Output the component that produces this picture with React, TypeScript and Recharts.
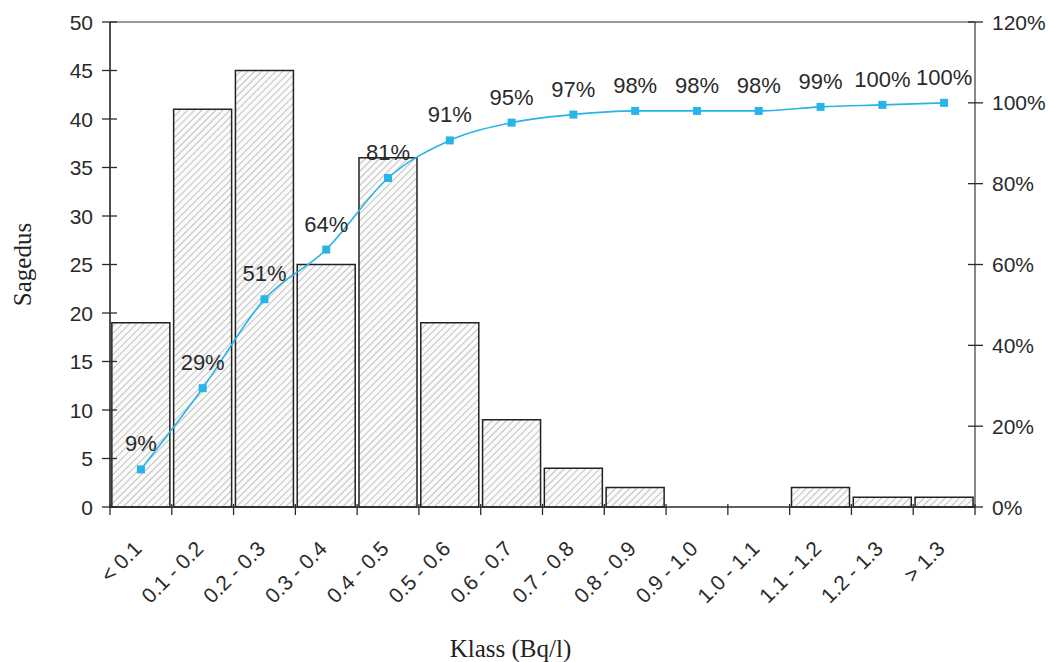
import React from "react";
import {
  ComposedChart,
  Bar,
  Line,
  XAxis,
  YAxis,
  LabelList,
  Label,
  ReferenceLine,
} from "recharts";

// Radon concentration classes and how often each occurs
const CATEGORIES = [
  "< 0.1",
  "0.1 - 0.2",
  "0.2 - 0.3",
  "0.3 - 0.4",
  "0.4 - 0.5",
  "0.5 - 0.6",
  "0.6 - 0.7",
  "0.7 - 0.8",
  "0.8 - 0.9",
  "0.9 - 1.0",
  "1.0 - 1.1",
  "1.1 - 1.2",
  "1.2 - 1.3",
  "> 1.3",
];
const FREQUENCY = [19, 41, 45, 25, 36, 19, 9, 4, 2, 0, 0, 2, 1, 1];
const CUMULATIVE = [9.3, 29.4, 51.4, 63.7, 81.4, 90.7, 95.1, 97.1, 98.0, 98.0, 98.0, 99.0, 99.5, 100];
const LEFT_TICKS = [0, 5, 10, 15, 20, 25, 30, 35, 40, 45, 50];
const RIGHT_TICKS = [0, 20, 40, 60, 80, 100, 120];

const W = 1055;
const H = 662;
const TOP = 22;
const LEFT_W = 110;
const RIGHT_W = 80;
const X_AXIS_H = 155;
const PLOT_BOTTOM = H - X_AXIS_H;
const PLOT_RIGHT = W - RIGHT_W;
const BAND = (PLOT_RIGHT - LEFT_W) / CATEGORIES.length;

const SANS = "'Liberation Sans', Arial, sans-serif";
const SERIF = "'Liberation Serif', 'Times New Roman', serif";
const INK = "#2a2a2a";
const CYAN = "#27b4e6";

const rows = CATEGORIES.map((c, i) => ({
  klass: c,
  sagedus: FREQUENCY[i],
  kum: CUMULATIVE[i],
}));

function XTick(props: any) {
  const { x, index } = props;
  const last = index === CATEGORIES.length - 1;
  const ax = x + 2;
  const ay = PLOT_BOTTOM + 43;
  return (
    <g>
      <line x1={x - BAND / 2} x2={x - BAND / 2} y1={PLOT_BOTTOM - 3} y2={PLOT_BOTTOM + 8} stroke={INK} strokeWidth={1.3} />
      {last && (
        <line x1={x + BAND / 2} x2={x + BAND / 2} y1={PLOT_BOTTOM - 3} y2={PLOT_BOTTOM + 8} stroke={INK} strokeWidth={1.3} />
      )}
      <text
        x={ax}
        y={ay}
        textAnchor="end"
        transform={`rotate(-45 ${ax} ${ay})`}
        fontFamily={SANS}
        fontSize={21}
        fill={INK}
      >
        {props.payload.value}
      </text>
    </g>
  );
}

function LeftTick(props: any) {
  const { y, payload } = props;
  return (
    <g>
      <line x1={LEFT_W - 8} x2={LEFT_W + 7} y1={y} y2={y} stroke={INK} strokeWidth={1.3} />
      <text x={LEFT_W - 17} y={y} dy={7.5} textAnchor="end" fontFamily={SANS} fontSize={21} fill={INK}>
        {payload.value}
      </text>
    </g>
  );
}

function RightTick(props: any) {
  const { y, payload } = props;
  return (
    <g>
      <line x1={PLOT_RIGHT - 7} x2={PLOT_RIGHT + 8} y1={y} y2={y} stroke={INK} strokeWidth={1.3} />
      <text x={PLOT_RIGHT + 17} y={y} dy={7.5} textAnchor="start" fontFamily={SANS} fontSize={21} fill={INK}>
        {payload.value + "%"}
      </text>
    </g>
  );
}

function SquareDot(props: any) {
  const { cx, cy, index } = props;
  return <rect key={index} x={cx - 4} y={cy - 4} width={8} height={8} fill={CYAN} />;
}

function PctLabel(props: any) {
  const { x, y, value } = props;
  return (
    <text x={x} y={y - 18} textAnchor="middle" fontFamily={SANS} fontSize={22} fill={INK}>
      {Math.round(value) + "%"}
    </text>
  );
}

export default function App() {
  return (
    <div style={{ position: "absolute", left: 0, top: 0, background: "#fff" }}>
      <ComposedChart
        width={W}
        height={H}
        data={rows}
        margin={{ top: TOP, right: 0, bottom: 0, left: 0 }}
        barCategoryGap="3%"
      >
        <defs>
          <pattern id="hatch" patternUnits="userSpaceOnUse" width={5} height={5} patternTransform="rotate(45)">
            <rect width={5} height={5} fill="#fbfbfb" />
            <line x1={0} y1={0} x2={0} y2={5} stroke="#9a9a9a" strokeWidth={1.2} />
          </pattern>
        </defs>
        <XAxis
          dataKey="klass"
          height={X_AXIS_H}
          interval={0}
          tickLine={false}
          axisLine={{ stroke: INK, strokeWidth: 1.5 }}
          tick={<XTick />}
        >
          <Label
            value="Klass (Bq/l)"
            position="insideBottom"
            offset={5}
            dx={-32}
            style={{ fontFamily: SERIF, fontSize: 25, fill: "#222" }}
          />
        </XAxis>
        <YAxis
          yAxisId="left"
          width={LEFT_W}
          domain={[0, 50]}
          ticks={LEFT_TICKS}
          tickLine={false}
          axisLine={{ stroke: "#222", strokeWidth: 1.6 }}
          tick={<LeftTick />}
        >
          <Label
            value="Sagedus"
            angle={-90}
            position="insideLeft"
            offset={22}
            style={{ fontFamily: SERIF, fontSize: 25, fill: "#222", textAnchor: "middle" }}
          />
        </YAxis>
        <YAxis
          yAxisId="right"
          orientation="right"
          width={RIGHT_W}
          domain={[0, 120]}
          ticks={RIGHT_TICKS}
          tickLine={false}
          axisLine={{ stroke: "#555", strokeWidth: 1.4 }}
          tick={<RightTick />}
        />
        <ReferenceLine yAxisId="left" y={50} stroke="#777" strokeWidth={1.4} />
        <Bar
          yAxisId="left"
          dataKey="sagedus"
          fill="url(#hatch)"
          stroke="#222"
          strokeWidth={1.5}
          isAnimationActive={false}
        />
        <Line
          yAxisId="right"
          dataKey="kum"
          stroke={CYAN}
          strokeWidth={1.6}
          type="monotone"
          dot={<SquareDot />}
          activeDot={false}
          isAnimationActive={false}
        >
          <LabelList dataKey="kum" content={<PctLabel />} />
        </Line>
      </ComposedChart>
    </div>
  );
}
